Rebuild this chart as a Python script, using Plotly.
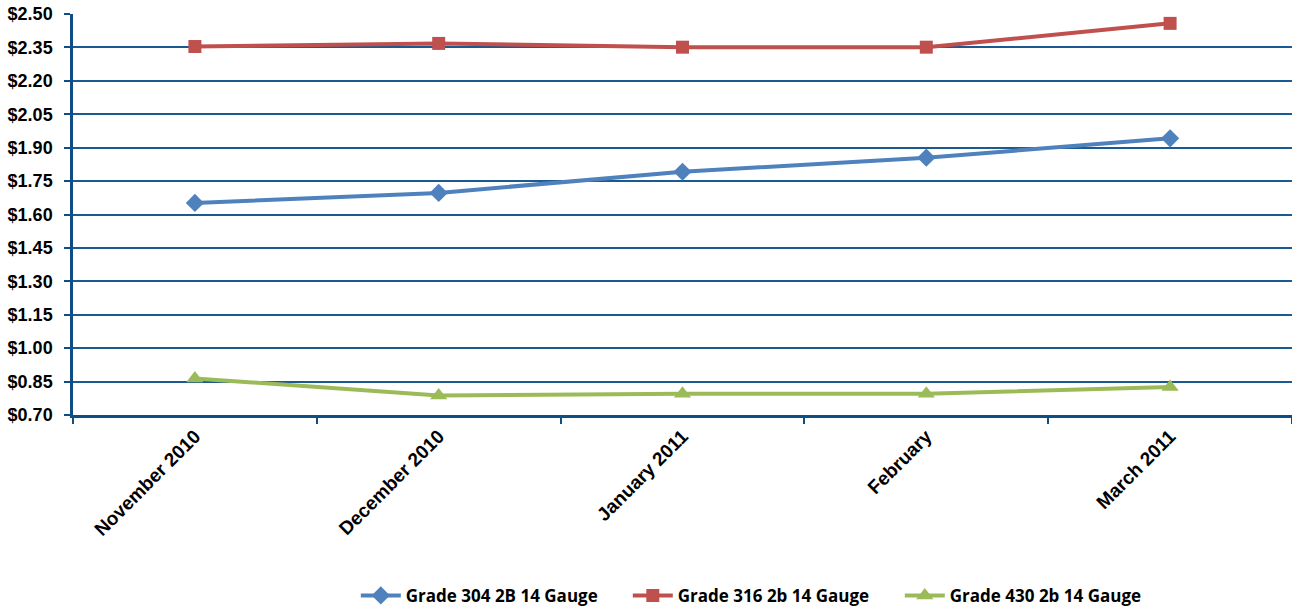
import plotly.graph_objects as go

months = ["November 2010", "December 2010", "January 2011", "February", "March 2011"]
grade_304 = [1.652, 1.697, 1.792, 1.855, 1.942]
grade_316 = [2.354, 2.368, 2.351, 2.351, 2.458]
grade_430 = [0.864, 0.787, 0.795, 0.795, 0.826]
y_ticks = [0.70, 0.85, 1.00, 1.15, 1.30, 1.45, 1.60, 1.75, 1.90, 2.05, 2.20, 2.35, 2.50]

series = [
    ("Grade 304 2B 14 Gauge", grade_304, "#4F81BD", "diamond", 14),
    ("Grade 316 2b 14 Gauge", grade_316, "#C0504D", "square", 13),
    ("Grade 430 2b 14 Gauge", grade_430, "#9BBB59", "triangle-up", 15),
]

fig = go.Figure()
for name, vals, color, sym, size in series:
    fig.add_trace(go.Scatter(
        x=months, y=vals, name=name, mode="lines+markers",
        line=dict(color=color, width=4),
        marker=dict(symbol=sym, size=size, color=color),
    ))

axis_col = "#0E4E85"
fig.update_layout(
    width=1292, height=608,
    margin=dict(l=73, r=0, t=14, b=193, autoexpand=False),
    paper_bgcolor="white", plot_bgcolor="white",
    showlegend=True,
    legend=dict(orientation="h", x=0.232, xanchor="left", y=-0.451, yanchor="middle",
                font=dict(family="Open Sans", size=17, color="black", weight="bold"),
                itemwidth=40, tracegroupgap=0, entrywidth=217),
    xaxis=dict(
        type="category", tickson="boundaries", ticks="outside", ticklen=6,
        tickcolor=axis_col, tickwidth=1.5,
        showline=True, linecolor=axis_col, linewidth=2.5,
        showgrid=False, tickangle=-45, automargin=False,
        tickfont=dict(family="Liberation Sans", size=19, color="black", weight="bold"),
        range=[-0.5, 4.5],
    ),
    yaxis=dict(
        range=[0.70, 2.50], tickvals=y_ticks, tickformat="$.2f",
        ticks="outside", ticklen=6, tickcolor=axis_col, tickwidth=1.5,
        showline=True, linecolor=axis_col, linewidth=2.5,
        showgrid=True, gridcolor="#1A5A91", gridwidth=1.5,
        zeroline=False, automargin=False, ticklabelstandoff=8,
        tickfont=dict(family="Liberation Sans", size=18, color="black", weight="bold"),
    ),
)

fig.write_html("out.html")
